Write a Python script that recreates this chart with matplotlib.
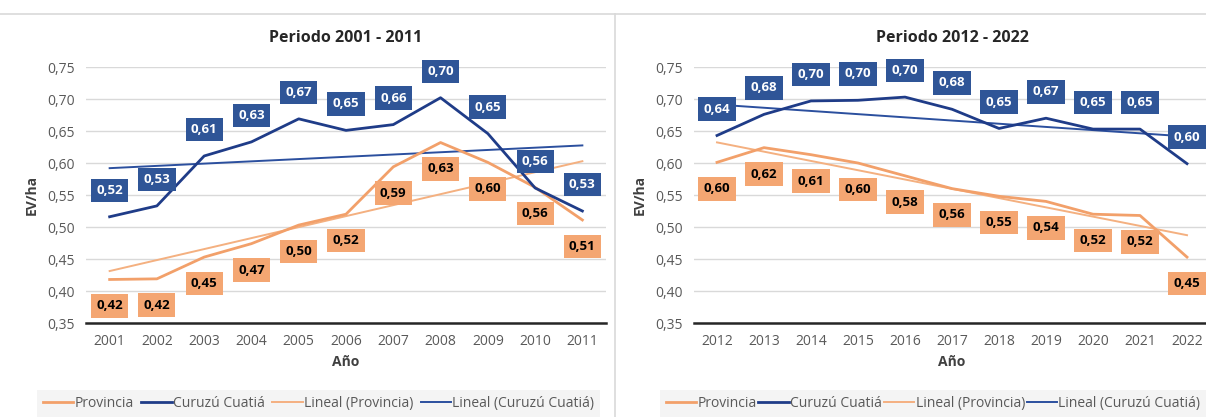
import matplotlib.pyplot as plt
import numpy as np
from matplotlib.lines import Line2D

plt.rcParams['font.family'] = ['Open Sans', 'DejaVu Sans']

# Periodo 2001 - 2011
years_a = ['2001', '2002', '2003', '2004', '2005', '2006', '2007', '2008', '2009', '2010', '2011']
prov_a = [0.418, 0.419, 0.453, 0.474, 0.503, 0.520, 0.594, 0.632, 0.601, 0.562, 0.511]
curu_a = [0.516, 0.533, 0.611, 0.633, 0.669, 0.651, 0.660, 0.702, 0.646, 0.561, 0.525]

# Periodo 2012 - 2022
years_b = ['2012', '2013', '2014', '2015', '2016', '2017', '2018', '2019', '2020', '2021', '2022']
prov_b = [0.601, 0.624, 0.613, 0.600, 0.580, 0.560, 0.548, 0.540, 0.520, 0.518, 0.453]
curu_b = [0.643, 0.676, 0.697, 0.698, 0.703, 0.684, 0.654, 0.670, 0.653, 0.653, 0.599]

ORANGE = '#F2A06A'
ORANGE_T = '#F4B080'
NAVY = '#1F3C88'
NAVY_T = '#2B4F9E'
BOX_BLUE = '#2F5597'
BOX_ORANGE = '#F4A672'

fig = plt.figure(figsize=(12.06, 4.17), dpi=100)


def fmt(v):
    return f'{v:.2f}'.replace('.', ',')


def panel(left, width, years, prov, curu, title, legend_x0, legend_w):
    ax = fig.add_axes([left, 0.2254, width, 0.6139])
    x = np.arange(len(years))
    ax.plot(x, prov, color=ORANGE, lw=2, label='Provincia', zorder=3)
    ax.plot(x, curu, color=NAVY, lw=2, label='Curuzú Cuatiá', zorder=3)
    pp = np.polyfit(x, prov, 1)
    pc = np.polyfit(x, curu, 1)
    ax.plot(x, np.polyval(pp, x), color=ORANGE_T, lw=1.4, label='Lineal (Provincia)', zorder=2)
    ax.plot(x, np.polyval(pc, x), color=NAVY_T, lw=1.4, label='Lineal (Curuzú Cuatiá)', zorder=2)

    for xi, v in zip(x, curu):
        ax.annotate(fmt(v), (xi, v), xytext=(0, 19), textcoords='offset points',
                    ha='center', va='center', color='white', fontsize=9.5, fontweight='bold',
                    bbox=dict(boxstyle='square,pad=0.4', fc=BOX_BLUE, ec='none'), zorder=5)
    for xi, v in zip(x, prov):
        ax.annotate(fmt(v), (xi, v), xytext=(0, -19), textcoords='offset points',
                    ha='center', va='center', color='black', fontsize=9.5, fontweight='bold',
                    bbox=dict(boxstyle='square,pad=0.4', fc=BOX_ORANGE, ec='none'), zorder=5)

    ax.set_xlim(-0.5, len(years) - 0.5)
    ax.set_ylim(0.35, 0.75)
    yt = np.arange(0.35, 0.751, 0.05)
    ax.set_yticks(yt)
    ax.set_yticklabels([fmt(v) for v in yt])
    ax.set_xticks(x)
    ax.set_xticklabels(years)
    ax.tick_params(length=0, labelsize=10, colors='#595959', pad=8)
    ax.grid(axis='y', color='#D9D9D9', lw=1)
    ax.set_axisbelow(True)
    for s in ['top', 'right', 'left']:
        ax.spines[s].set_visible(False)
    ax.spines['bottom'].set_color('#262626')
    ax.spines['bottom'].set_linewidth(1.8)
    ax.set_title(title, fontsize=11.5, fontweight='bold', color='#262626', pad=18)
    ax.set_xlabel('Año', fontsize=10, fontweight='bold', color='#404040', labelpad=4)
    ax.set_ylabel('EV/ha', fontsize=10, fontweight='bold', color='#404040', labelpad=6)

    h, l = ax.get_legend_handles_labels()
    leg = fig.legend(h, l, loc='center', ncol=4, frameon=True, fontsize=10,
                     bbox_to_anchor=(legend_x0, 0.0, legend_w, 0.065), mode='expand',
                     handlelength=2.2, handletextpad=0.1, borderaxespad=0, columnspacing=1.0,
                     fancybox=False, labelcolor='#595959')
    leg.get_frame().set_facecolor('#F2F2F2')
    leg.get_frame().set_edgecolor('none')
    return ax


panel(86 / 1206, 520 / 1206, years_a, prov_a, curu_a, 'Periodo 2001 - 2011', 37 / 1206, 563 / 1206)
panel(693.5 / 1206, 517 / 1206, years_b, prov_b, curu_b, 'Periodo 2012 - 2022', 660 / 1206, 546 / 1206)

fig.add_artist(Line2D([0, 1], [1 - 14 / 417] * 2, color='#D9D9D9', lw=1.2, transform=fig.transFigure))
fig.add_artist(Line2D([615 / 1206] * 2, [0, 1 - 14 / 417], color='#D9D9D9', lw=1.2, transform=fig.transFigure))

fig.savefig('out.png', dpi=100, facecolor='white')
